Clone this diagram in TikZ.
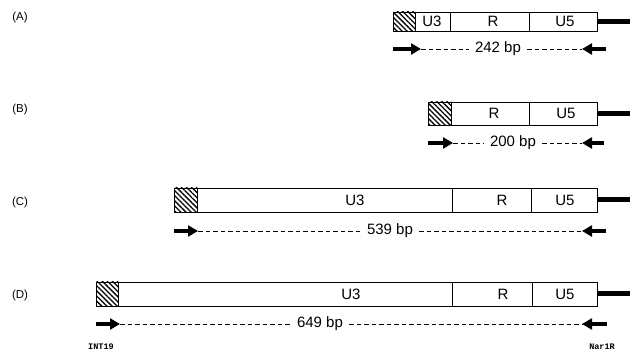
\documentclass[tikz,border=0pt]{standalone}
\usepackage{fontspec}
\setmainfont{Liberation Sans}
\newfontfamily\primerfont{Liberation Mono}
\usepackage{tikz}
\usetikzlibrary{arrows.meta, positioning, patterns.meta}

\begin{document}
\begin{tikzpicture}[
  x=1pt, y=-1pt,
  seg/.style={draw, line width=0.6pt, inner sep=0pt, anchor=west, minimum height=#1},
  seg/.default=23pt,
  hatch/.style={seg=#1, pattern={Lines[angle=-45, distance=3.6pt, line width=1.3pt]}, minimum width=22pt},
  hatch/.default=23pt,
  lbl/.style={font=\fontsize{15}{17}\selectfont, inner sep=0pt},
  row/.style={font=\fontsize{11.5}{13}\selectfont, inner sep=0pt},
  bp/.style={font=\fontsize{15}{17}\selectfont, inner sep=6pt},
  primer/.style={-{Triangle[length=10pt,width=11pt]}, line width=3.4pt},
  dsh/.style={line width=0.7pt, dash pattern=on 4.5pt off 3pt},
  tail/.style={line width=5pt},
  pname/.style={font=\primerfont\bfseries\fontsize{8.5}{10}\selectfont, inner sep=0pt},
]
\useasboundingbox (0,0) rectangle (630,352);

% (A)
\node[row] (rowa) at (20,18) {(A)};
\node[hatch=19pt] (a-h) at (393,21.5) {};
\node[seg=19pt, minimum width=35pt] (a-u3) at (415,21.5) {};
\node[seg=19pt, minimum width=79pt] (a-r) at (450,21.5) {};
\node[seg=19pt, minimum width=68pt] (a-u5) at (529,21.5) {};
\node[lbl] (a-u3t) at (432,21.5) {U3};
\node[lbl] (a-rt) at (493,21.5) {R};
\node[lbl] (a-u5t) at (565,21.5) {U5};
\coordinate (a-end) at (630,21.5);
\draw[tail] (a-u5.east) -- (a-end);
\coordinate (a-l) at (393,49);
\coordinate (a-lt) at (421,49);
\coordinate (a-r0) at (606,49);
\coordinate (a-rt0) at (582,49);
\node[bp] (a-bp) at (498,49) {242 bp};
\draw[primer] (a-l) -- (a-lt);
\draw[primer] (a-r0) -- (a-rt0);
\draw[dsh] (a-lt) -- (a-bp.west);
\draw[dsh] (a-bp.east) -- (a-rt0);

% (B)
\node[row] (rowb) at (20,110) {(B)};
\node[hatch, minimum width=23pt] (b-h) at (428,113.5) {};
\node[seg, minimum width=78pt] (b-r) at (451,113.5) {};
\node[seg, minimum width=68pt] (b-u5) at (529,113.5) {};
\node[lbl] (b-rt) at (494,113.5) {R};
\node[lbl] (b-u5t) at (566,113.5) {U5};
\coordinate (b-end) at (630,113.5);
\draw[tail] (b-u5.east) -- (b-end);
\coordinate (b-l) at (428,143);
\coordinate (b-lt) at (453,143);
\coordinate (b-r0) at (604,143);
\coordinate (b-rt0) at (582,143);
\node[bp] (b-bp) at (513,143) {200 bp};
\draw[primer] (b-l) -- (b-lt);
\draw[primer] (b-r0) -- (b-rt0);
\draw[dsh] (b-lt) -- (b-bp.west);
\draw[dsh] (b-bp.east) -- (b-rt0);

% (C)
\node[row] (rowc) at (20,203) {(C)};
\node[hatch=24pt, minimum width=23pt] (c-h) at (174,200) {};
\node[seg=24pt, minimum width=255pt] (c-u3) at (197,200) {};
\node[seg=24pt, minimum width=79pt] (c-r) at (452,200) {};
\node[seg=24pt, minimum width=66pt] (c-u5) at (531,200) {};
\node[lbl] (c-u3t) at (355,200) {U3};
\node[lbl] (c-rt) at (502,200) {R};
\node[lbl] (c-u5t) at (565,200) {U5};
\coordinate (c-end) at (630,200);
\draw[tail] (c-u5.east) -- (c-end);
\coordinate (c-l) at (174,231);
\coordinate (c-lt) at (198,231);
\coordinate (c-r0) at (606,231);
\coordinate (c-rt0) at (582,231);
\node[bp] (c-bp) at (390,231) {539 bp};
\draw[primer] (c-l) -- (c-lt);
\draw[primer] (c-r0) -- (c-rt0);
\draw[dsh] (c-lt) -- (c-bp.west);
\draw[dsh] (c-bp.east) -- (c-rt0);

% (D)
\node[row] (rowd) at (20,296) {(D)};
\node[hatch=24pt] (d-h) at (96,294) {};
\node[seg=24pt, minimum width=334pt] (d-u3) at (118,294) {};
\node[seg=24pt, minimum width=80pt] (d-r) at (452,294) {};
\node[seg=24pt, minimum width=65pt] (d-u5) at (532,294) {};
\node[lbl] (d-u3t) at (351,294) {U3};
\node[lbl] (d-rt) at (503,294) {R};
\node[lbl] (d-u5t) at (565,294) {U5};
\coordinate (d-end) at (630,294);
\draw[tail] (d-u5.east) -- (d-end);
\coordinate (d-l) at (96,324);
\coordinate (d-lt) at (120,324);
\coordinate (d-r0) at (607,324);
\coordinate (d-rt0) at (582,324);
\node[bp] (d-bp) at (320,324) {649 bp};
\draw[primer] (d-l) -- (d-lt);
\draw[primer] (d-r0) -- (d-rt0);
\draw[dsh] (d-lt) -- (d-bp.west);
\draw[dsh] (d-bp.east) -- (d-rt0);

% primers
\node[pname] (int19) at (101,347) {INT19};
\node[pname] (nar1r) at (602,347) {Nar1R};

\end{tikzpicture}
\end{document}
